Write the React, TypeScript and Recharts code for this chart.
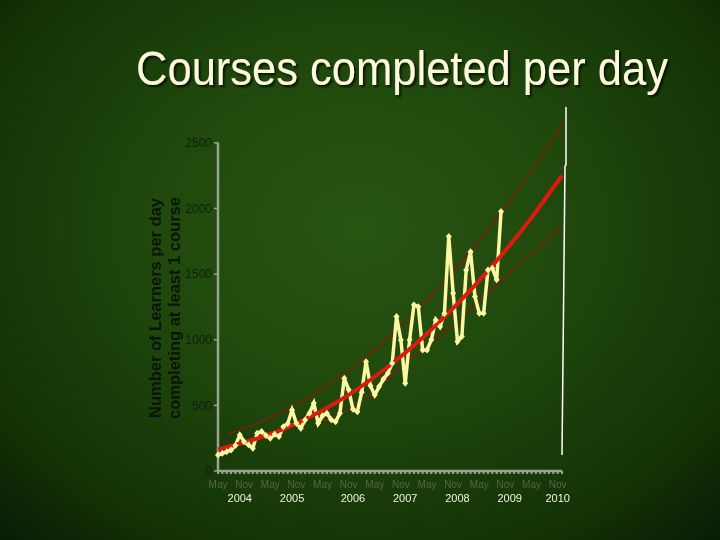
import React from 'react'
import { ComposedChart, Line, XAxis, YAxis, ReferenceLine } from 'recharts'

const monthNames = ['Jan', 'Feb', 'Mar', 'Apr', 'May', 'Jun', 'Jul', 'Aug', 'Sep', 'Oct', 'Nov', 'Dec']
const axisYears = [2004, 2005, 2006, 2007, 2008, 2009, 2010]

// every month May 2004 .. Dec 2010 is a category on the axis
const categories: string[] = []
axisYears.forEach(y => {
  monthNames.forEach((m, k) => {
    if (y === 2004 && k < 4) return
    categories.push(`${m} ${y}`)
  })
})

// learners completing at least one course, per day (monthly, May 2004 .. Oct 2009)
const learners = [
  122, 135, 147, 160, 195, 274, 223, 200, 173, 287, 300, 270,
  250, 280, 262, 338, 360, 465, 363, 325, 389, 440, 516, 363,
  420, 440, 390, 376, 440, 706, 620, 470, 452, 600, 833, 650,
  579, 643, 700, 745, 820, 1176, 998, 668, 1000, 1265, 1252, 922,
  922, 1000, 1151, 1100, 1200, 1786, 1354, 986, 1024, 1532, 1671, 1329,
  1202, 1202, 1532, 1545, 1456, 1976,
]

// trend and its bounds, read at May / Nov
const trendMonths = ['May 2004', 'Nov 2004', 'May 2005', 'Nov 2005', 'May 2006', 'Nov 2006', 'May 2007',
  'Nov 2007', 'May 2008', 'Nov 2008', 'May 2009', 'Nov 2009', 'May 2010', 'Nov 2010', 'Dec 2010']
const trendMid = [165, 218, 280, 362, 462, 580, 718, 872, 1045, 1240, 1450, 1680, 1930, 2205, 2250]
const trendUpper = [null, 323, 406, 507, 628, 768, 928, 1106, 1304, 1521, 1758, 2014, 2289, 2583, 2640]
const trendLower = [null, null, null, null, 380, 470, 610, 800, 960, 1110, 1300, 1480, 1660, 1840, 1865]
const upperStart = { month: 'Jul 2004', value: 280 }

// where the year captions sit under the month labels
const yearCaptions: Record<string, string> = {
  'Oct 2004': '2004', 'Oct 2005': '2005', 'Dec 2006': '2006', 'Dec 2007': '2007',
  'Dec 2008': '2008', 'Dec 2009': '2009', 'Nov 2010': '2010',
}

const yTicks = [0, 500, 1000, 1500, 2000, 2500]

const data = categories.map((c, i) => {
  const t = trendMonths.indexOf(c)
  return {
    month: c,
    learners: i < learners.length ? learners[i] : null,
    mid: t >= 0 ? trendMid[t] : null,
    upper: c === upperStart.month ? upperStart.value : t >= 0 ? trendUpper[t] : null,
    lower: t >= 0 ? trendLower[t] : null,
  }
})

const MonthTick = (props: any) => {
  const { x, y, payload } = props
  const v: string = payload.value
  const m = v.slice(0, 3)
  return (
    <g>
      {(m === 'May' || m === 'Nov') && (
        <text x={x} y={y + 12} textAnchor="middle" fontSize={10} fill="#56644a" fontFamily="Liberation Sans, Arial">{m}</text>
      )}
      {yearCaptions[v] && (
        <text x={x} y={y + 26} textAnchor="middle" fontSize={11} fill="#f2f2e6" fontFamily="Liberation Sans, Arial">{yearCaptions[v]}</text>
      )}
    </g>
  )
}

const Diamond = (props: any) => {
  const { cx, cy, index } = props
  if (cx == null || cy == null) return <g key={`e${index}`} />
  return <path key={`d${index}`} d={`M${cx},${cy - 3.5}L${cx + 3},${cy}L${cx},${cy + 3.5}L${cx - 3},${cy}Z`} fill="#fbf7a2" />
}

const axisColor = '#9aa394'

export default function App() {
  return (
    <div style={{
      position: 'fixed', left: 0, top: 0, width: 720, height: 540, overflow: 'hidden',
      background: 'radial-gradient(ellipse 78% 85% at 50% 42%, #295513 0%, #1f470c 40%, #123206 75%, #061403 100%)',
    }}>
      <svg width={720} height={540} style={{ position: 'absolute', left: 0, top: 0 }}>
        <defs>
          <filter id="shadow" x="-10%" y="-50%" width="120%" height="200%">
            <feDropShadow dx={2} dy={2} stdDeviation={0.8} floodColor="#000" floodOpacity={0.7} />
          </filter>
        </defs>
        <g transform="translate(402,85) scale(1,1.1)">
          <text x={0} y={0} textAnchor="middle" fontSize={43.5} fill="#fdf9dc" filter="url(#shadow)"
            fontFamily="Liberation Sans, Arial">
            Courses completed per day
          </text>
        </g>
        <g transform="translate(166,308) rotate(-90)" fontFamily="Liberation Sans, Arial" fontWeight="bold" fontSize={16.5} fill="#0a1404">
          <text x={0} y={-5} textAnchor="middle">Number of Learners  per day</text>
          <text x={0} y={14} textAnchor="middle">completing at least 1 course</text>
        </g>
      </svg>
      <div style={{ position: 'absolute', left: 0, top: 0 }}>
        {/* headroom above 2500 so the upper bound can run past the top tick */}
        <ComposedChart width={720} height={540} data={data} margin={{ top: 110, right: 158, bottom: 29, left: 0 }}>
          <XAxis dataKey="month" interval={0} height={40} tick={<MonthTick />} tickSize={3}
            axisLine={{ stroke: axisColor, strokeWidth: 2.5 }} tickLine={{ stroke: axisColor, strokeWidth: 2 }} />
          <YAxis width={218} domain={[0, 2750]} ticks={yTicks} tickSize={4}
            axisLine={false} tickLine={{ stroke: axisColor, strokeWidth: 1.5 }}
            tick={{ fontSize: 12, fill: '#0f1f09', fontFamily: 'Liberation Sans, Arial' }} />
          <ReferenceLine segment={[{ x: 'May 2004', y: 0 }, { x: 'May 2004', y: 2500 }]} position="start"
            stroke={axisColor} strokeWidth={2.5} ifOverflow="visible" />
          <Line dataKey="upper" type="monotone" connectNulls stroke="#652a0a" strokeWidth={2} dot={false} isAnimationActive={false} />
          <Line dataKey="lower" type="monotone" connectNulls stroke="#652a0a" strokeWidth={2} dot={false} isAnimationActive={false} />
          <Line dataKey="learners" type="linear" stroke="#fbf7a2" strokeWidth={3.5} dot={<Diamond />} isAnimationActive={false} />
          <Line dataKey="mid" type="monotone" connectNulls stroke="#dc1a0e" strokeWidth={4} dot={false} isAnimationActive={false} />
        </ComposedChart>
      </div>
      <svg width={720} height={540} style={{ position: 'absolute', left: 0, top: 0, pointerEvents: 'none' }}>
        <polyline points="566,107 566,165 565,166 562,455" fill="none" stroke="#ffffff" strokeWidth={1.5} />
      </svg>
    </div>
  )
}
